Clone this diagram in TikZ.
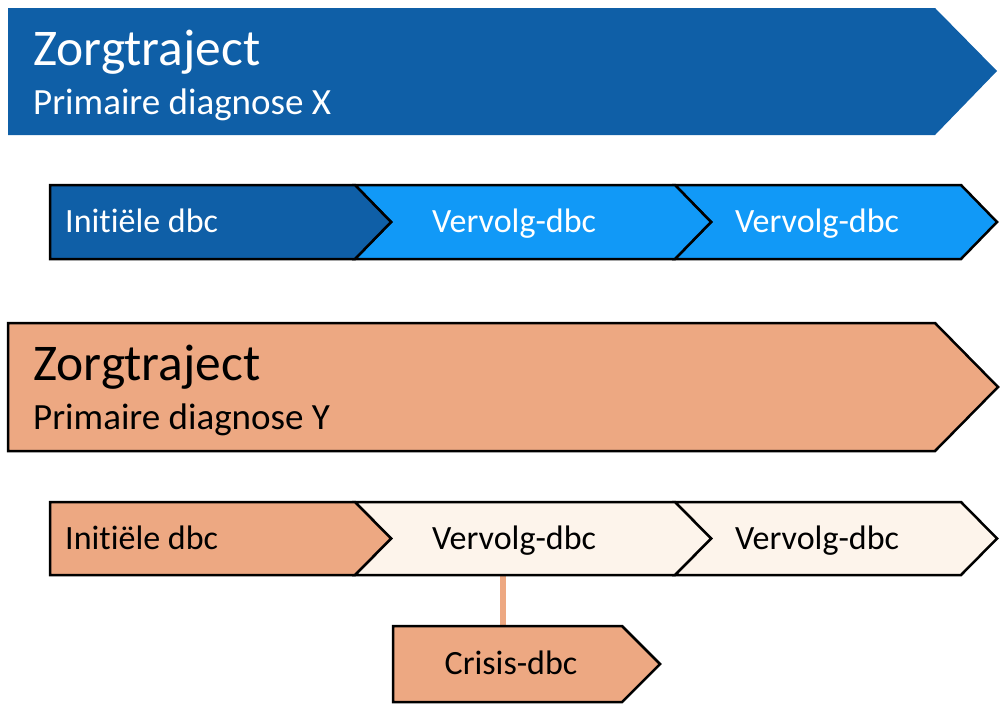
\documentclass[tikz,border=0pt]{standalone}
\usepackage{fontspec}
\setmainfont{Carlito}[RawFeature={-liga;-clig;-calt;-dlig}]
\usetikzlibrary{positioning}

\definecolor{trajblauw}{RGB}{15,95,167}
\definecolor{lichtblauw}{RGB}{17,153,247}
\definecolor{zalm}{RGB}{237,168,130}
\definecolor{creme}{RGB}{253,244,235}

\begin{document}
\begin{tikzpicture}[x=1pt, y=-1pt]
  % definicion de estilos
  \tikzset{
   pijl/.style={
           draw=black,
           line width=2.5pt,
           line join=miter},
   titel/.style={
           anchor=base west,
           inner sep=0pt,
           font=\fontsize{51.5}{51.5}\selectfont},
   ondertitel/.style={
           anchor=base west,
           inner sep=0pt,
           font=\fontsize{37}{37}\selectfont},
   tekst/.style={
           anchor=base,
           inner sep=0pt,
           font=\fontsize{34}{34}\selectfont},
   % lijn naar crisis-dbc
   verbinding/.style={
           draw=zalm,
           line width=6pt}
   }
  \useasboundingbox (0,0) rectangle (1000,704);

  % Zorgtraject X
  \fill[trajblauw] (8,8) -- (935,8) -- (997,71) -- (935,135) -- (8,135) -- cycle;
  \node[titel, text=white] (zorgX) at (33,65) {Zorgtraject};
  \node[ondertitel, text=white] (diagX) at (33,114) {Primaire diagnose X};

  \draw[pijl, fill=lichtblauw] (675,185) -- (961,185) -- (997,222) -- (961,259) -- (675,259) -- (711,222) -- cycle;
  \draw[pijl, fill=lichtblauw] (355,185) -- (675,185) -- (711,222) -- (675,259) -- (355,259) -- (391,222) -- cycle;
  \draw[pijl, fill=trajblauw] (50,185) -- (355,185) -- (391,222) -- (355,259) -- (50,259) -- cycle;
  \node[tekst, anchor=base west, text=white] (initX) at (65,232) {Init\kern0pt iële dbc};
  \node[tekst, text=white] (vervolgX1) at (514,232) {Vervolg-dbc};
  \node[tekst, text=white] (vervolgX2) at (817,232) {Vervolg-dbc};

  % Zorgtraject Y
  \draw[pijl, fill=zalm] (8,323) -- (935,323) -- (998,387) -- (935,451) -- (8,451) -- cycle;
  \node[titel] (zorgY) at (33,380) {Zorgtraject};
  \node[ondertitel] (diagY) at (33,429) {Primaire diagnose Y};

  \coordinate (aftakY) at (503,575);
  \coordinate (crisistop) at (503,626);
  \draw[verbinding] (aftakY) -- (crisistop);

  \draw[pijl, fill=creme] (675,502) -- (961,502) -- (997,538.5) -- (961,575) -- (675,575) -- (711,538.5) -- cycle;
  \draw[pijl, fill=creme] (355,502) -- (675,502) -- (711,538.5) -- (675,575) -- (355,575) -- (391,538.5) -- cycle;
  \draw[pijl, fill=zalm] (50,502) -- (355,502) -- (391,538.5) -- (355,575) -- (50,575) -- cycle;
  \node[tekst, anchor=base west] (initY) at (65,549) {Init\kern0pt iële dbc};
  \node[tekst] (vervolgY1) at (514,549) {Vervolg-dbc};
  \node[tekst] (vervolgY2) at (817,549) {Vervolg-dbc};

  % Crisis
  \draw[pijl, fill=zalm] (393,626) -- (622,626) -- (660,664) -- (622,702) -- (393,702) -- cycle;
  \node[tekst] (crisis) at (511,674) {Crisis-dbc};
\end{tikzpicture}
\end{document}
